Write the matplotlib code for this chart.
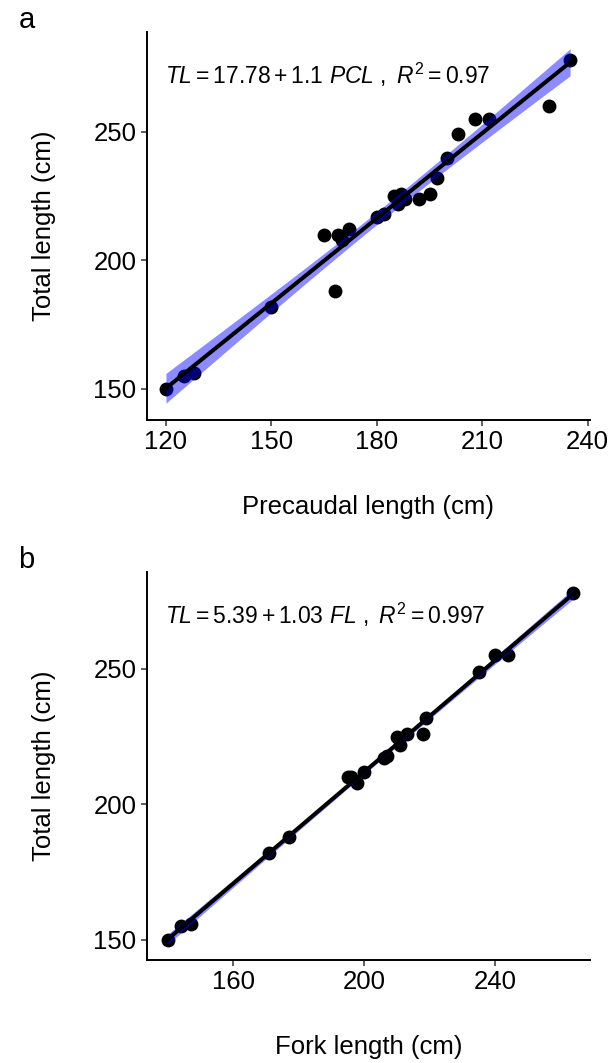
import numpy as np
import matplotlib
matplotlib.use("Agg")
import matplotlib.pyplot as plt

plt.rcParams['font.family'] = ['Liberation Sans', 'DejaVu Sans']
plt.rcParams['mathtext.fontset'] = 'custom'
plt.rcParams['mathtext.rm'] = 'Liberation Sans'
plt.rcParams['mathtext.it'] = 'Liberation Sans:italic'

# panel a: precaudal length vs total length
pcl = [120, 125, 128, 150, 165, 168, 169, 170, 172, 180, 182, 185, 186, 187, 188,
       192, 195, 197, 200, 203, 208, 212, 229, 235]
tl_a = [150, 155, 156, 182, 210, 188, 210, 208, 212, 217, 218, 225, 222, 226, 224,
        224, 226, 232, 240, 249, 255, 255, 260, 278]

# panel b: fork length vs total length
fl = [140, 144, 147, 171, 177, 195, 196, 198, 200, 206, 207, 210, 211, 213, 218,
      219, 235, 240, 244, 264]
tl_b = [150, 155, 156, 182, 188, 210, 210, 208, 212, 217, 218, 225, 222, 226, 226,
        232, 249, 255, 255, 278]

eq_a = r"$TL = 17.78 + 1.1\ PCL\ ,\ R^2 = 0.97$"
eq_b = r"$TL = 5.39 + 1.03\ FL\ ,\ R^2 = 0.997$"


def lm_band(x, y, t=2.08):
    # linear fit + 95% confidence band (like geom_smooth(method = "lm"))
    x = np.asarray(x, float)
    y = np.asarray(y, float)
    b, a = np.polyfit(x, y, 1)
    n = len(x)
    resid = y - (a + b * x)
    s = np.sqrt(np.sum(resid ** 2) / (n - 2))
    xs = np.linspace(x.min(), x.max(), 100)
    se = s * np.sqrt(1 / n + (xs - x.mean()) ** 2 / np.sum((x - x.mean()) ** 2))
    fit = a + b * xs
    return xs, fit, fit - t * se, fit + t * se


def panel(ax, x, y, eq, xlabel, xticks, xlim, ylim):
    ax.scatter(x, y, s=100, color='black', zorder=2, linewidths=0)
    xs, fit, lo, hi = lm_band(x, y)
    ax.fill_between(xs, lo, hi, color='blue', alpha=0.45, linewidth=0, zorder=3)
    ax.plot(xs, fit, color='black', lw=2.9, zorder=4)
    ax.set_xlim(*xlim)
    ax.set_ylim(*ylim)
    ax.set_xticks(xticks)
    ax.set_yticks([150, 200, 250])
    ax.spines['top'].set_visible(False)
    ax.spines['right'].set_visible(False)
    for sp in ('left', 'bottom'):
        ax.spines[sp].set_linewidth(1.4)
    ax.tick_params(width=1.1, length=4.5, labelsize=18.5, color='#333333', pad=3)
    ax.set_xlabel(xlabel, fontsize=18.5, labelpad=29)
    ax.set_ylabel("Total length (cm)", fontsize=18.5, labelpad=27)
    ax.text(0.04, 0.889, eq, transform=ax.transAxes, fontsize=16.5, ha='left', va='center')


fig = plt.figure(figsize=(6.15, 10.63), dpi=100)
ax1 = fig.add_axes([0.239, 0.605, 0.720, 0.365])
ax2 = fig.add_axes([0.239, 0.097, 0.720, 0.365])

panel(ax1, pcl, tl_a, eq_a, "Precaudal length (cm)", [120, 150, 180, 210, 240],
      (114.6, 240.6), (137.9, 288.9))
panel(ax2, fl, tl_b, eq_b, "Fork length (cm)", [160, 200, 240],
      (133.7, 269), (142.6, 285.8))

fig.text(0.03, 0.981, "a", fontsize=21, ha='left', va='center')
fig.text(0.03, 0.473, "b", fontsize=21, ha='left', va='center')

fig.savefig("out.png", dpi=100)
